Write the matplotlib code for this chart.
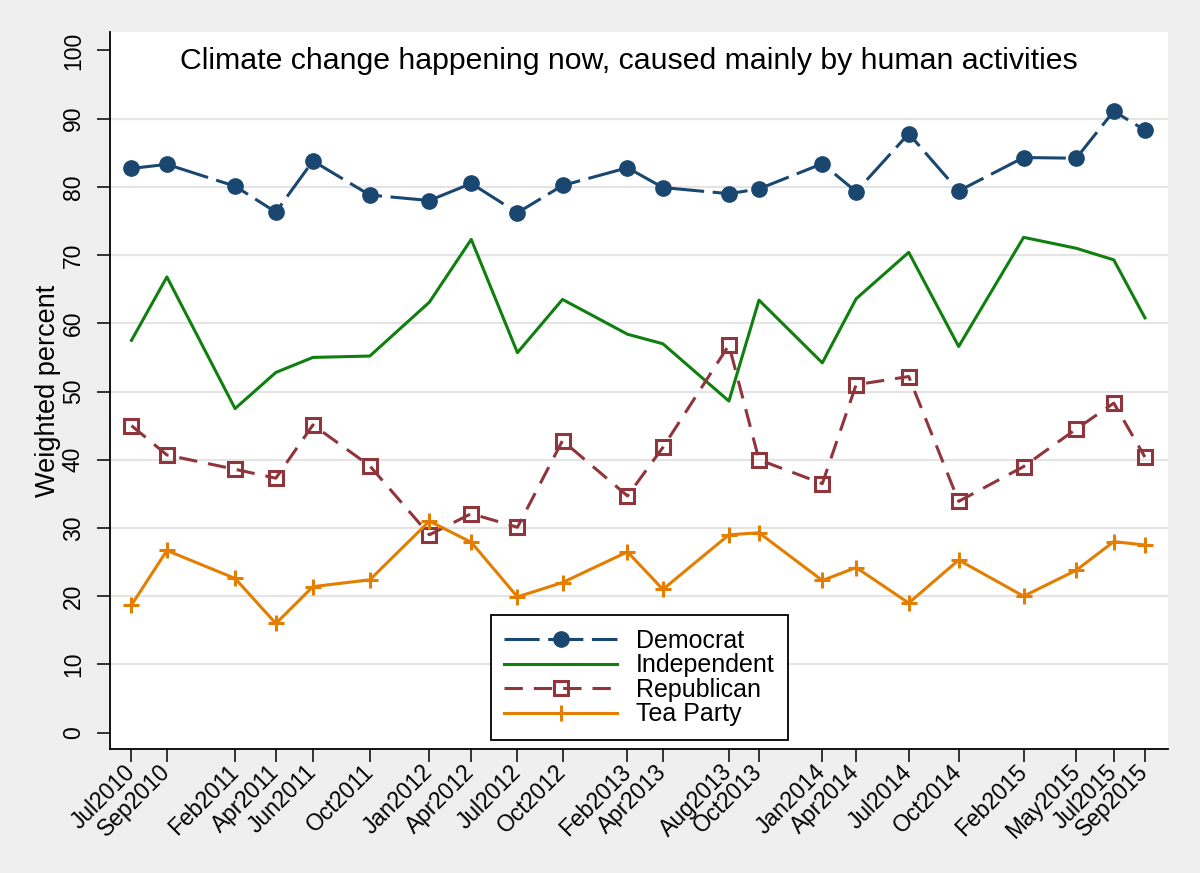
import matplotlib
matplotlib.use("Agg")
import matplotlib.pyplot as plt
import pandas as pd

# ---- data ----
survey_dates = ["2010-07-23", "2010-09-27", "2011-02-01", "2011-04-18", "2011-06-26",
                "2011-10-10", "2012-01-29", "2012-04-16", "2012-07-11", "2012-10-03",
                "2013-02-01", "2013-04-08", "2013-08-09", "2013-10-04", "2014-01-30",
                "2014-04-03", "2014-07-10", "2014-10-11", "2015-02-09", "2015-05-18",
                "2015-07-27", "2015-09-23"]
tick_labels = ["Jul2010", "Sep2010", "Feb2011", "Apr2011", "Jun2011", "Oct2011",
               "Jan2012", "Apr2012", "Jul2012", "Oct2012", "Feb2013", "Apr2013",
               "Aug2013", "Oct2013", "Jan2014", "Apr2014", "Jul2014", "Oct2014",
               "Feb2015", "May2015", "Jul2015", "Sep2015"]
democrat = [82.7, 83.3, 80.1, 76.3, 83.8, 78.8, 78.0, 80.5, 76.2, 80.2, 82.8, 79.9,
            79.0, 79.7, 83.4, 79.3, 87.8, 79.4, 84.3, 84.2, 91.1, 88.3]
independent = [57.5, 66.8, 47.5, 52.8, 55.0, 55.2, 63.1, 72.3, 55.7, 63.5, 58.4, 57.0,
               48.6, 63.4, 54.2, 63.6, 70.4, 56.6, 72.6, 71.0, 69.3, 60.8]
republican = [45.0, 40.7, 38.6, 37.3, 45.1, 39.1, 29.0, 32.1, 30.1, 42.8, 34.7, 41.8,
              56.8, 40.0, 36.5, 51.0, 52.2, 33.9, 39.0, 44.5, 48.3, 40.4]
tea_party = [18.7, 26.7, 22.6, 16.0, 21.4, 22.4, 31.0, 27.9, 19.9, 22.0, 26.5, 21.0,
             29.0, 29.3, 22.3, 24.2, 19.0, 25.3, 20.0, 23.8, 28.0, 27.5]
title = "Climate change happening now, caused mainly by human activities"
ylabel = "Weighted percent"

dates = pd.to_datetime(survey_dates)

plt.rcParams['font.family'] = ['Liberation Sans', 'DejaVu Sans']

W, H = 1200, 873
fig = plt.figure(figsize=(W / 100, H / 100), dpi=100, facecolor="#efefef")
ax = fig.add_axes([110 / W, 1 - 749 / H, (1168 - 110) / W, (749 - 32) / H])
ax.set_facecolor("white")

navy = "#1a476f"
green = "#0f7f0f"
maroon = "#90353b"
orange = "#e37e00"
lw = 2.2

ax.plot(dates, democrat, color=navy, lw=lw, linestyle=(0, (11.5, 2.8)),
        marker="o", markersize=11, markerfacecolor=navy, markeredgecolor=navy,
        label="Democrat", zorder=3)
ax.plot(dates, independent, color=green, lw=lw, linestyle="-",
        label="Independent", zorder=3)
ax.plot(dates, republican, color=maroon, lw=lw, linestyle=(0, (6, 3.6)),
        marker="s", markersize=10, markerfacecolor="none", markeredgecolor=maroon,
        markeredgewidth=2.2, label="Republican", zorder=3)
ax.plot(dates, tea_party, color=orange, lw=lw, linestyle="-",
        marker="+", markersize=11, markeredgewidth=2.2, markeredgecolor=orange,
        label="Tea Party", zorder=4)

# axes limits
ax.set_xlim(dates[0] - pd.Timedelta(days=40), dates[-1] + pd.Timedelta(days=43))
ax.set_ylim(-2.4, 102.7)

# y axis
yt = list(range(0, 101, 10))
ax.set_yticks(yt)
ax.set_yticklabels([str(v) for v in yt], rotation=90, va="center", fontsize=16.5)
ax.yaxis.grid(True, color="#e4e4e4", lw=1.6, zorder=0)
gls = ax.get_ygridlines()
gls[0].set_visible(False)
gls[-1].set_visible(False)
ax.set_axisbelow(True)

# x axis
ax.set_xticks(dates)
ax.set_xticklabels(tick_labels, rotation=45, ha="right", va="center",
                   rotation_mode="anchor", fontsize=16.5)
ax.tick_params(axis="y", length=9.5, width=1.1, pad=8.5, colors="black")
ax.tick_params(axis="x", length=9, width=1.1, pad=5, colors="black")

for s in ["top", "right"]:
    ax.spines[s].set_visible(False)
for s in ["left", "bottom"]:
    ax.spines[s].set_color("black")
    ax.spines[s].set_linewidth(1.3)

fig.text(628.5 / W, 1 - 69 / H, title, ha="center", va="baseline", fontsize=21.8)
fig.text(48 / W, 1 - 390.5 / H, ylabel, rotation=90, ha="center", va="center",
         fontsize=19.5)

leg = ax.legend(loc="upper left", bbox_to_anchor=(490.7 / W, 1 - 615 / H),
                bbox_transform=fig.transFigure, borderaxespad=0, fontsize=18,
                frameon=True, fancybox=False, edgecolor="black", framealpha=1,
                handlelength=4.5, handletextpad=0.75, labelspacing=0.02,
                borderpad=0.55, numpoints=1)
leg.get_frame().set_linewidth(1.3)

fig.savefig("out.png", dpi=100, facecolor=fig.get_facecolor())
